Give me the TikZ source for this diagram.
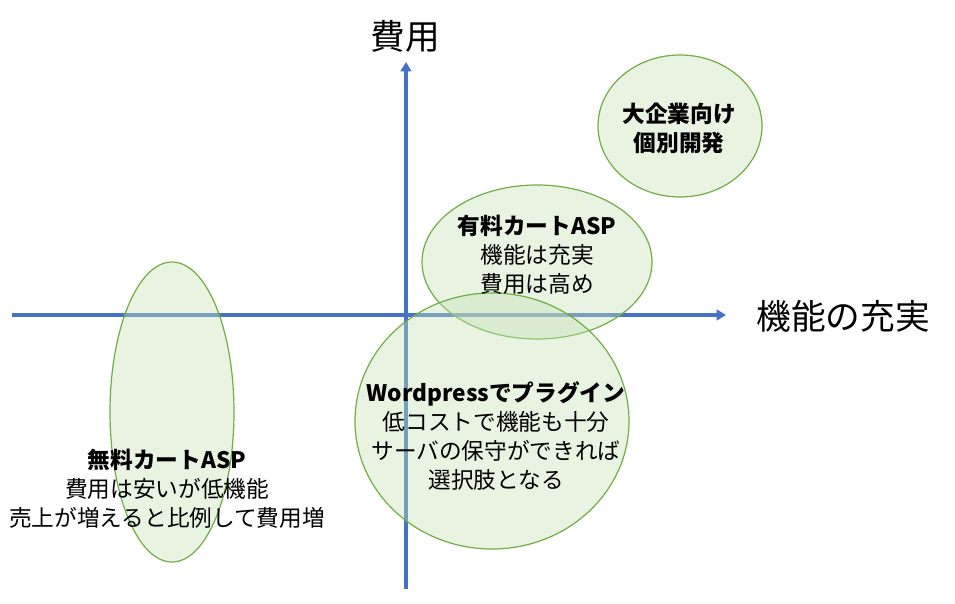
\documentclass[tikz,border=0pt]{standalone}
\usepackage{fontspec}
\setmainfont{Noto Sans CJK JP}
\usepackage{tikz}
\usetikzlibrary{shapes.geometric,arrows.meta}
\definecolor{axisblue}{HTML}{4472C4}
\definecolor{zoneedge}{HTML}{70AD47}
\definecolor{zonefill}{HTML}{C5E0B4}
\definecolor{textdark}{HTML}{000000}

\begin{document}
\begin{tikzpicture}[x=0.75pt,y=-0.75pt,
    axis/.style={axisblue, line width=2.4pt, -{Triangle[length=7pt,width=8pt]}},
    zone/.style={ellipse, draw=zoneedge, line width=0.9pt, fill=zonefill, fill opacity=0.4, inner sep=0pt},
    zonetext/.style={text=textdark, font=\fontsize{17}{21.6}\selectfont, align=center},
    axislabel/.style={text=textdark, font=\fontsize{26}{30}\selectfont}]
        \useasboundingbox (0,0) rectangle (955,603);
        % Axes
        \coordinate (xstart) at (12,315);
        \coordinate (xend) at (726,315);
        \coordinate (ystart) at (406,589);
        \coordinate (yend) at (406,62);
        \draw[axis] (xstart) -- (xend);
        \draw[axis] (ystart) -- (yend);
        \node[axislabel] (ylab) at (405,36) {費用};
        \node[axislabel] (xlab) at (843,316) {機能の充実};
        % Zones
        \node[zone, minimum width=123pt, minimum height=106.5pt] (custom) at (680,126) {};
        \node[zone, minimum width=172.5pt, minimum height=115.5pt] (paid) at (537,262) {};
        \node[zone, minimum width=205.5pt, minimum height=192pt] (wp) at (492,421) {};
        \node[zone, minimum width=93pt, minimum height=225pt] (free) at (172,412) {};
        % Zone texts
        \node[zonetext] (customtext) at (679,128) {\textbf{大企業向け}\\\textbf{個別開発}};
        \node[zonetext] (paidtext) at (537,255) {\textbf{有料カートASP}\\機能は充実\\費用は高め};
        \node[zonetext] (wptext) at (496,436) {\textbf{Wordpressでプラグイン}\\低コストで機能も十分\\サーバの保守ができれば\\選択肢となる};
        \node[zonetext] (freetext) at (167,489) {\textbf{無料カートASP}\\費用は安いが低機能\\売上が増えると比例して費用増};
      \end{tikzpicture}
\end{document}
